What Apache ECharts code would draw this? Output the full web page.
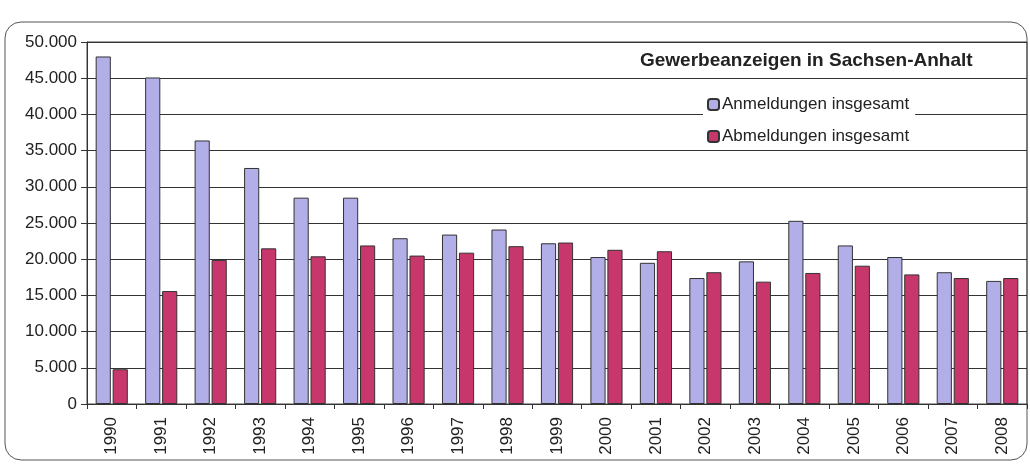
<!DOCTYPE html>
<html><head><meta charset="utf-8">
<script src="https://cdn.jsdelivr.net/npm/echarts@6/dist/echarts.min.js"></script>
<style>html,body{margin:0;padding:0;background:#fff}#c{width:1030px;height:465px}</style>
</head><body><div id="c"></div>
<script>
const categories = ['1990','1991','1992','1993','1994','1995','1996','1997','1998','1999','2000','2001','2002','2003','2004','2005','2006','2007','2008'];
const anmeldungen = [48000,45100,36400,32600,28500,28500,22900,23400,24100,22200,20300,19500,17400,19700,25300,21900,20300,18200,17000];
const abmeldungen = [4800,15600,19900,21500,20400,21900,20500,20900,21800,22300,21300,21100,18200,16900,18100,19100,17900,17400,17400];
const yTicks = {min:0, max:50000, interval:5000};
const titleText = 'Gewerbeanzeigen in Sachsen-Anhalt';
const seriesNames = ['Anmeldungen insgesamt','Abmeldungen insgesamt'];

function fmt(v){ return String(v).replace(/\B(?=(\d{3})+(?!\d))/g,'.'); }
const font = '"Liberation Sans", Arial, sans-serif';
const chart = echarts.init(document.getElementById('c'));
chart.setOption({
  animation:false,
  backgroundColor:'#fff',
  textStyle:{fontFamily:font},
  graphic:[{type:'rect',z:-10,silent:true,shape:{x:5,y:22,width:1022,height:438,r:16},style:{fill:'#fff',stroke:'#555',lineWidth:1}}],
  title:{text:titleText,left:636,top:48,backgroundColor:'#fff',padding:[3,4],
    textStyle:{fontFamily:font,fontSize:19,fontWeight:'bold',color:'#222'}},
  legend:{orient:'vertical',left:703,top:94,itemWidth:11,itemHeight:11,itemGap:15,backgroundColor:'#fff',padding:[2,6,2,4],
    textStyle:{fontFamily:font,fontSize:17,color:'#222',padding:[0,0,0,-2]},data:seriesNames},
  grid:{left:87,right:3,top:42,bottom:61,show:true,borderColor:'#444',borderWidth:1},
  xAxis:{type:'category',data:categories,boundaryGap:true,
    axisLine:{lineStyle:{color:'#333',width:1}},
    axisTick:{show:true,alignWithLabel:false,length:5,lineStyle:{color:'#333'}},
    axisLabel:{rotate:90,fontSize:17,color:'#222',fontFamily:font,margin:13}},
  yAxis:{type:'value',min:yTicks.min,max:yTicks.max,interval:yTicks.interval,
    axisLine:{show:true,lineStyle:{color:'#333',width:1}},
    axisTick:{show:true,length:6,lineStyle:{color:'#333'}},
    splitLine:{lineStyle:{color:'#333',width:1}},
    axisLabel:{formatter:fmt,fontSize:17,color:'#222',fontFamily:font,margin:10}},
  series:[
    {name:seriesNames[0],type:'bar',data:anmeldungen,barGap:'12%',barCategoryGap:'35%',
      itemStyle:{color:'#b2aee8',borderColor:'#333',borderWidth:1}},
    {name:seriesNames[1],type:'bar',data:abmeldungen,
      itemStyle:{color:'#c8376b',borderColor:'#333',borderWidth:1}}
  ]
});
</script></body></html>
